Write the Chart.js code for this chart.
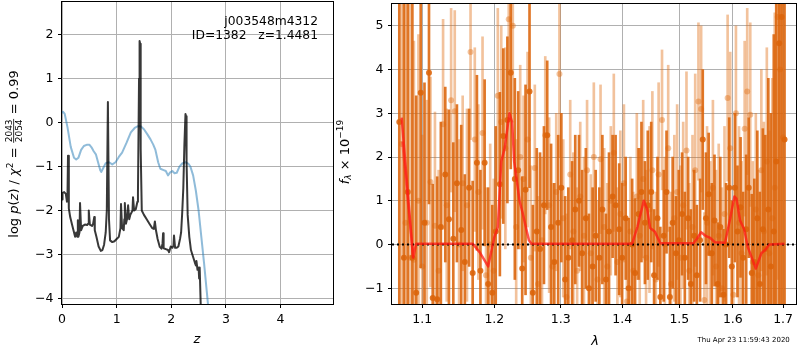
<!DOCTYPE html>
<html>
<head>
<meta charset="utf-8">
<script src="https://cdn.jsdelivr.net/npm/chart.js@4.4.0/dist/chart.umd.min.js"></script>
<style>
body { margin: 0; background: #fff; }
#wrap { position: relative; width: 800px; height: 350px; }
canvas { position: absolute; top: 0; }
#pz { left: 0; }
#spec { left: 330px; }
</style>
</head>
<body>
<div id="wrap">
  <canvas id="pz" width="340" height="350"></canvas>
  <canvas id="spec" width="470" height="350"></canvas>
</div>
<script>
// ---- left panel: log p(z) ----
var zTicks = [0, 1, 2, 3, 4];
var pzTicks = [-4, -3, -2, -1, 0, 1, 2];

var blueZ = [0.0, 0.02, 0.05, 0.1, 0.16, 0.22, 0.26, 0.3, 0.35, 0.4, 0.46, 0.5, 0.54, 0.58, 0.62, 0.66, 0.7, 0.72, 0.76, 0.8, 0.86, 0.92, 0.98, 1.04, 1.1, 1.18, 1.26, 1.33, 1.39, 1.44, 1.5, 1.56, 1.62, 1.67, 1.71, 1.76, 1.8, 1.86, 1.9, 1.94, 1.98, 2.02, 2.06, 2.1, 2.15, 2.2, 2.26, 2.31, 2.35, 2.4, 2.45, 2.5, 2.55, 2.6, 2.65, 2.7, 2.75];
var blueY = [0.22, 0.25, 0.2, -0.1, -0.55, -0.8, -0.84, -0.8, -0.62, -0.53, -0.5, -0.5, -0.56, -0.65, -0.72, -0.9, -1.08, -1.12, -1.02, -0.92, -0.9, -0.95, -0.9, -0.78, -0.68, -0.46, -0.22, -0.12, -0.08, -0.08, -0.15, -0.26, -0.38, -0.5, -0.62, -0.9, -1.05, -1.08, -1.1, -1.2, -1.13, -1.1, -1.15, -1.14, -1.0, -0.93, -0.9, -0.93, -1.0, -1.2, -1.55, -2.0, -2.6, -3.2, -3.85, -4.5, -5.2];

var darkZ = [0.0, 0.01, 0.04, 0.07, 0.09, 0.1, 0.11, 0.125, 0.15, 0.18, 0.21, 0.24, 0.26, 0.28, 0.29, 0.3, 0.32, 0.33, 0.35, 0.38, 0.42, 0.46, 0.48, 0.49, 0.51, 0.55, 0.57, 0.59, 0.6, 0.63, 0.67, 0.71, 0.74, 0.77, 0.8, 0.82, 0.84, 0.86, 0.88, 0.92, 0.96, 1.0, 1.04, 1.07, 1.08, 1.1, 1.13, 1.14, 1.15, 1.17, 1.19, 1.21, 1.23, 1.25, 1.27, 1.29, 1.3, 1.32, 1.35, 1.38, 1.39, 1.41, 1.42, 1.43, 1.44, 1.46, 1.5, 1.55, 1.6, 1.65, 1.68, 1.7, 1.72, 1.75, 1.79, 1.82, 1.84, 1.85, 1.86, 1.9, 1.94, 1.96, 1.99, 2.02, 2.04, 2.05, 2.07, 2.1, 2.13, 2.16, 2.18, 2.2, 2.22, 2.24, 2.26, 2.27, 2.28, 2.3, 2.33, 2.36, 2.4, 2.43, 2.45, 2.46, 2.48, 2.5, 2.51, 2.52, 2.54, 2.56];
var darkY = [-1.75, -1.6, -1.58, -1.62, -1.8, -1.7, -0.75, -1.95, -2.15, -2.3, -2.45, -2.6, -2.5, -2.6, -2.22, -2.6, -2.5, -1.83, -2.45, -2.35, -2.32, -2.33, -2.3, -2.0, -2.32, -2.35, -2.3, -2.15, -2.45, -2.6, -2.82, -2.92, -2.9, -2.78, -2.5, -2.0, 0.47, -2.2, -2.68, -2.72, -2.7, -2.65, -2.6, -2.4, -1.85, -2.4, -2.45, -2.2, -1.83, -2.3, -2.2, -1.88, -2.2, -2.1, -2.05, -2.0, -1.7, -2.0, -1.97, -1.8, -1.6, 1.0, 1.86, 1.8, -0.6, -2.0, -2.1, -2.2, -2.3, -2.4, -2.42, -2.25, -2.45, -2.65, -2.83, -2.87, -2.75, -2.52, -2.86, -2.88, -2.9, -2.95, -2.82, -2.85, -2.8, -2.57, -2.85, -2.85, -2.82, -2.65, -2.5, -2.05, -1.5, -0.5, 0.2, 0.15, -0.9, -2.1, -2.6, -2.9, -3.06, -3.18, -3.25, -3.15, -3.35, -3.3, -3.55, -3.3, -4.2, -5.0];

// ---- right panel: spectrum ----
var lamTicks = [1.1, 1.2, 1.3, 1.4, 1.5, 1.6, 1.7];
var fluxTicks = [-1, 0, 1, 2, 3, 4, 5];

var lamA = [1.070, 1.076, 1.081, 1.087, 1.092, 1.098, 1.103, 1.109, 1.114, 1.120, 1.125, 1.131, 1.136, 1.142, 1.147, 1.153, 1.158, 1.164, 1.169, 1.175, 1.180, 1.186, 1.191, 1.197, 1.202, 1.208, 1.213, 1.219, 1.224, 1.230, 1.235, 1.241, 1.246, 1.252, 1.257, 1.263, 1.268, 1.274, 1.279, 1.285, 1.290, 1.296, 1.301, 1.307, 1.312, 1.318, 1.323, 1.329, 1.334, 1.340, 1.345, 1.351, 1.356, 1.362, 1.367, 1.373, 1.378, 1.384, 1.389, 1.395, 1.400, 1.406, 1.411, 1.417, 1.422, 1.428, 1.433, 1.439, 1.444, 1.450, 1.455, 1.461, 1.466, 1.472, 1.477, 1.483, 1.488, 1.494, 1.499, 1.505, 1.510, 1.516, 1.521, 1.527, 1.532, 1.538, 1.543, 1.549, 1.554, 1.560, 1.565, 1.571, 1.576, 1.582, 1.587, 1.593, 1.598, 1.604, 1.609, 1.615, 1.620, 1.626, 1.631, 1.637, 1.642, 1.648, 1.653, 1.659, 1.664, 1.670, 1.675, 1.681, 1.686, 1.692, 1.697, 1.703];
var fluxA = [2.8, -0.3, 1.2, -0.3, -1.1, 3.47, 0.5, 3.93, -1.22, -1.25, 0.4, 1.6, 0.58, 0.13, 1.4, 0.33, -0.4, 1.3, -0.65, 1.87, -0.6, 1.87, -0.9, -1.1, 0.3, 1.38, 2.48, 2.85, 3.93, 1.5, 1.7, -0.55, 1.25, 3.5, -1.1, 0.3, -0.1, 0.9, 2.5, 0.4, -0.4, 0.5, 1.3, -0.8, -0.3, 0.1, 0.8, 1.0, -0.2, 0.6, -1.0, -0.5, 0.2, -0.3, 0.8, -0.8, 0.3, 1.1, 0.9, 0.35, -0.3, 0.6, -1.0, 0.0, -0.65, 0.7, 1.2, 0.5, 0.9, 1.2, -0.7, 0.6, -1.2, 0.2, 1.2, -1.2, 0.5, -0.2, 0.1, 0.7, -0.3, 0.6, -0.9, 0.2, -0.7, 0.1, 2.4, 0.6, 1.15, -0.2, 0.55, -0.9, 0.4, -1.15, 0.0, 1.3, -0.5, 1.3, 0.3, 0.85, -0.3, 0.35, 1.3, -0.65, -0.4, 0.6, -0.9, 0.35, -0.1, 0.8, -0.5, 0.3, 1.9, 4.6, 5.2, 2.4];
var errA = [9, 8, 7, 6, 4.5, 4.0, 3.2, 3.0, 2.6, 2.8, 2.4, 2.0, 2.5, 2.2, 1.8, 2.4, 2.0, 1.8, 2.1, 2.0, 2.3, 1.9, 2.2, 2.0, 2.4, 2.1, 2.0, 1.9, 2.2, 2.3, 1.8, 2.1, 2.4, 2.2, 2.0, 1.9, 2.2, 1.8, 1.7, 1.9, 1.8, 2.0, 1.7, 1.9, 1.6, 1.8, 1.7, 1.5, 1.9, 1.6, 1.7, 1.8, 1.5, 1.6, 1.7, 1.5, 1.8, 1.4, 1.6, 1.5, 1.7, 1.4, 1.6, 1.5, 1.7, 1.5, 1.6, 1.4, 1.7, 1.6, 1.5, 1.4, 1.6, 1.5, 1.4, 1.6, 1.5, 1.3, 1.6, 1.4, 1.5, 1.4, 1.7, 1.5, 1.6, 1.4, 1.6, 1.5, 1.4, 1.6, 1.5, 1.4, 1.6, 1.5, 1.4, 1.6, 1.5, 1.7, 1.5, 1.6, 1.5, 1.7, 1.6, 1.8, 1.9, 2.0, 2.1, 2.3, 2.6, 3.0, 3.5, 4.5, 6, 8, 9, 9];

var lamB = [1.073, 1.078, 1.084, 1.089, 1.095, 1.100, 1.106, 1.111, 1.117, 1.122, 1.128, 1.133, 1.139, 1.144, 1.150, 1.155, 1.161, 1.166, 1.172, 1.177, 1.183, 1.188, 1.194, 1.199, 1.205, 1.210, 1.216, 1.221, 1.227, 1.232, 1.238, 1.243, 1.249, 1.254, 1.260, 1.265, 1.271, 1.276, 1.282, 1.287, 1.293, 1.298, 1.304, 1.309, 1.315, 1.320, 1.326, 1.331, 1.337, 1.342, 1.348, 1.353, 1.359, 1.364, 1.370, 1.375, 1.381, 1.386, 1.392, 1.397, 1.403, 1.408, 1.414, 1.419, 1.425, 1.430, 1.436, 1.441, 1.447, 1.452, 1.458, 1.463, 1.469, 1.474, 1.480, 1.485, 1.491, 1.496, 1.502, 1.507, 1.513, 1.518, 1.524, 1.529, 1.535, 1.540, 1.546, 1.551, 1.557, 1.562, 1.568, 1.573, 1.579, 1.584, 1.590, 1.595, 1.601, 1.606, 1.612, 1.617, 1.623, 1.628, 1.634, 1.639, 1.645, 1.650, 1.656, 1.661, 1.667, 1.672, 1.678, 1.683, 1.689, 1.694, 1.700];
var fluxB = [2.3, 0.5, -0.3, -0.35, 1.0, -0.5, 0.5, 1.43, 0.43, -0.6, 2.75, 0.9, 3.3, 3.05, 0.0, 1.4, 0.9, 4.4, 2.4, 1.2, 2.55, -0.7, 0.0, -0.6, 3.4, 2.8, 2.2, 5.15, 5.0, 0.4, 2.0, 1.5, 2.4, -0.3, 1.75, -0.9, 0.1, 2.5, 0.9, -0.5, 1.2, 3.9, 0.6, -1.2, 1.6, 0.3, -0.6, 1.1, 0.2, 1.7, -0.2, 2.0, -0.8, 1.95, 0.4, -0.5, 1.0, 2.1, -0.4, 0.7, 1.4, -1.3, 0.3, -0.6, 1.1, 0.2, 1.5, -0.3, 0.8, 1.7, -0.8, 1.6, 2.85, 0.0, 2.2, -0.9, 0.6, 1.2, -0.3, 0.9, 2.15, -0.6, 0.4, 1.7, 3.27, 3.1, -1.27, 0.5, -0.2, 1.3, -0.5, 0.2, -1.0, 0.7, 3.35, 2.2, -1.15, 3.0, 0.5, -0.2, 2.65, 3.5, 2.97, -0.4, 0.8, -0.7, 1.7, 0.3, 1.9, -0.2, 0.6, 1.3, 5.2, 4.0, 2.45];
var errB = [9, 8, 6, 5, 3.8, 3.0, 2.8, 2.4, 2.6, 2.3, 2.4, 2.2, 2.1, 2.3, 2.4, 2.0, 2.2, 2.0, 2.1, 2.0, 2.2, 2.0, 2.3, 2.1, 2.0, 2.2, 2.3, 2.1, 2.2, 2.0, 2.1, 1.9, 2.0, 2.1, 1.9, 2.0, 1.9, 1.8, 2.0, 1.9, 1.8, 1.9, 1.8, 1.9, 1.7, 1.8, 1.9, 1.7, 1.8, 1.6, 1.8, 1.7, 1.8, 1.7, 1.8, 1.9, 1.7, 1.8, 1.7, 1.9, 1.8, 1.9, 1.7, 1.8, 1.9, 2.0, 1.8, 2.0, 1.9, 1.8, 2.0, 2.1, 1.6, 2.0, 1.9, 2.1, 1.9, 2.0, 2.1, 1.9, 1.8, 2.0, 2.1, 2.2, 1.8, 1.9, 2.0, 2.2, 2.1, 2.0, 2.2, 2.1, 2.3, 2.0, 1.9, 2.2, 2.1, 2.0, 2.2, 2.1, 2.0, 1.9, 2.1, 2.3, 2.2, 2.4, 2.3, 2.5, 2.6, 2.8, 3.2, 4.0, 6, 8, 9];

var modelLam = [1.073, 1.088, 1.092, 1.169, 1.180, 1.191, 1.200, 1.205, 1.210, 1.215, 1.222, 1.226, 1.229, 1.237, 1.242, 1.251, 1.255, 1.417, 1.426, 1.437, 1.443, 1.448, 1.456, 1.466, 1.526, 1.533, 1.540, 1.548, 1.557, 1.566, 1.585, 1.595, 1.603, 1.607, 1.614, 1.622, 1.629, 1.637, 1.645, 1.656, 1.664, 1.672, 1.703];
var modelFlux = [2.9, -0.3, 0.02, 0.02, -0.2, -0.5, 0.17, 0.4, 1.9, 2.2, 3.0, 2.8, 1.9, 1.0, 0.7, 0.1, 0.02, 0.02, 0.4, 1.0, 0.8, 0.38, 0.3, 0.03, 0.03, 0.15, 0.28, 0.2, 0.15, 0.05, 0.04, 0.6, 1.1, 1.05, 0.55, 0.35, -0.05, -0.3, -0.55, -0.2, -0.12, 0.0, 0.02];
var modelLamB = [1.074, 1.081, 1.088];
var modelFluxB = [2.35, 1.0, -0.3];

var zeroLam = [1.0606, 1.7267];
var zeroFlux = [0, 0];

var FONT = '"DejaVu Sans", sans-serif';
var TICK = 12.5;

function pts(xs, ys) {
  return xs.map(function (x, i) { return { x: x, y: ys[i] }; });
}
function errbars(xs, ys, es) {
  return xs.map(function (x, i) { return { x: x, y: [ys[i] - es[i], ys[i] + es[i]] }; });
}
function minus(v) { return (v < 0 ? '\u2212' : '') + Math.abs(v); }

// text made of runs (italic / sub / superscript / fraction), centred on x,y
function drawRuns(ctx, runs, x, y, rot) {
  ctx.save();
  ctx.translate(x, y);
  if (rot) ctx.rotate(-Math.PI / 2);
  var total = 0;
  runs.forEach(function (r) {
    if (r.frac) {
      ctx.font = r.s + 'px ' + FONT;
      r.w = Math.max(ctx.measureText(r.frac[0]).width, ctx.measureText(r.frac[1]).width) + 2;
    } else {
      ctx.font = (r.it ? 'italic ' : '') + r.s + 'px ' + FONT;
      r.w = ctx.measureText(r.t).width;
    }
    total += r.w;
  });
  var cx = -total / 2;
  ctx.fillStyle = '#000';
  ctx.textBaseline = 'alphabetic';
  runs.forEach(function (r) {
    if (r.frac) {
      ctx.font = r.s + 'px ' + FONT;
      ctx.textAlign = 'center';
      var bar = -4.3;
      ctx.fillText(r.frac[0], cx + r.w / 2, bar - 1.3);
      ctx.fillText(r.frac[1], cx + r.w / 2, bar + 1.3 + r.s * 0.73);
      ctx.fillRect(cx + 0.5, bar - 0.4, r.w - 1, 0.8);
    } else {
      ctx.font = (r.it ? 'italic ' : '') + r.s + 'px ' + FONT;
      ctx.textAlign = 'left';
      ctx.fillText(r.t, cx, r.dy || 0);
    }
    cx += r.w;
  });
  ctx.restore();
}

var frame = {
  id: 'frame',
  afterDatasetsDraw: function (chart) {
    var a = chart.chartArea, c = chart.ctx;
    c.save();
    c.strokeStyle = '#000';
    c.lineWidth = 1;
    c.strokeRect(a.left - 0.5, a.top - 0.5, a.right - a.left + 1, a.bottom - a.top + 1);
    c.restore();
  }
};

function axisOpts(ticks, fmt, width, height) {
  return {
    offset: false,
    afterBuildTicks: function (s) { s.ticks = ticks.map(function (v) { return { value: v }; }); },
    afterFit: function (s) {
      if (width) s.width = width;
      if (height) s.height = height;
      s.paddingTop = 0; s.paddingBottom = 0; s.paddingLeft = 0; s.paddingRight = 0;
    },
    grid: { color: '#b0b0b0', lineWidth: 1, tickColor: '#000', tickLength: 4, offset: false },
    border: { display: false },
    ticks: {
      color: '#000', font: { family: FONT, size: TICK }, padding: 4.5,
      maxRotation: 0, autoSkip: false, callback: fmt
    }
  };
}

// left chart
var pzText = {
  id: 'pzText',
  afterDraw: function (chart) {
    var c = chart.ctx;
    c.save();
    c.fillStyle = '#000';
    c.font = '12.3px ' + FONT;
    c.textAlign = 'right';
    c.textBaseline = 'alphabetic';
    c.fillText('j003548m4312', 318, 24.5);
    c.fillText('ID=1382   z=1.4481', 318, 38.5);
    c.restore();
    drawRuns(c, [{ t: 'z', s: 13, it: 1 }], 197, 343, false);
    drawRuns(c, [
      { t: 'log ', s: 13 }, { t: 'p', s: 13, it: 1 }, { t: '(', s: 13 }, { t: 'z', s: 13, it: 1 },
      { t: ') / ', s: 13 }, { t: '\u03c7', s: 13, it: 1 }, { t: '2', s: 9, dy: -5.5 },
      { t: ' = ', s: 13 }, { frac: ['2043', '2054'], s: 9 }, { t: ' = 0.99', s: 13 }
    ], 18, 154, true);
  }
};

var xz = axisOpts(zTicks, function (v) { return String(v); }, 0, 46);
xz.type = 'linear'; xz.min = 0; xz.max = 4.96;
var yz = axisOpts(pzTicks, minus, 62, 0);
yz.type = 'linear'; yz.min = -4.13; yz.max = 2.75;

new Chart(document.getElementById('pz'), {
  type: 'scatter',
  data: {
    datasets: [
      { type: 'line', data: pts(darkZ, darkY), borderColor: 'rgba(0,0,0,0.78)', borderWidth: 2, borderJoinStyle: 'round', pointRadius: 0, tension: 0, order: 0, clip: 0 },
      { type: 'line', data: pts(blueZ, blueY), borderColor: 'rgba(31,119,180,0.5)', borderWidth: 2, borderJoinStyle: 'round', pointRadius: 0, tension: 0, order: 1, clip: 0 }
    ]
  },
  options: {
    responsive: false, animation: false, devicePixelRatio: 1,
    layout: { padding: { top: 2, right: 7, left: 0, bottom: 0 } },
    plugins: { legend: { display: false }, tooltip: { enabled: false } },
    scales: { x: xz, y: yz }
  },
  plugins: [frame, pzText]
});

// right chart (canvas starts at x = 330)
var specText = {
  id: 'specText',
  afterDraw: function (chart) {
    var c = chart.ctx;
    drawRuns(c, [{ t: '\u03bb', s: 13, it: 1 }], 265, 345, false);
    drawRuns(c, [
      { t: 'f', s: 13, it: 1 }, { t: '\u03bb', s: 9, it: 1, dy: 2.5 },
      { t: ' \u00d7 10', s: 13 }, { t: '\u221219', s: 9, dy: -5.5 }
    ], 18.5, 152, true);
    c.save();
    c.fillStyle = '#000';
    c.font = '7px ' + FONT;
    c.textAlign = 'left';
    c.fillText('Thu Apr 23 11:59:43 2020', 367.5, 342);
    c.restore();
  }
};

var DARK = 'rgba(220,100,10,0.88)';
var LIGHT = 'rgba(225,110,20,0.42)';

var xl = axisOpts(lamTicks, function (v) { return v.toFixed(1); }, 0, 46);
xl.type = 'logarithmic'; xl.min = 1.0606; xl.max = 1.7267;
var yl = axisOpts(fluxTicks, minus, 62, 0);
yl.type = 'linear'; yl.min = -1.36; yl.max = 5.5;

new Chart(document.getElementById('spec'), {
  type: 'scatter',
  data: {
    datasets: [
      { type: 'line', data: pts(modelLam, modelFlux), borderColor: 'rgba(255,25,20,0.75)', borderWidth: 2.5, borderJoinStyle: 'round', pointRadius: 0, tension: 0, order: 0, clip: 0 },
      { type: 'line', data: pts(modelLamB, modelFluxB), borderColor: 'rgba(255,25,20,0.5)', borderWidth: 2.5, pointRadius: 0, tension: 0, order: 0, clip: 0 },
      { type: 'line', data: pts(zeroLam, zeroFlux), borderColor: '#000', borderWidth: 1.8, borderDash: [2, 3], pointRadius: 0, order: 1, clip: 0 },
      { type: 'scatter', data: pts(lamA, fluxA), backgroundColor: DARK, borderWidth: 0, pointRadius: 3, order: 2, clip: 0 },
      { type: 'bar', data: errbars(lamA, fluxA, errA), backgroundColor: DARK, barThickness: 2, grouped: false, order: 3, clip: 0 },
      { type: 'scatter', data: pts(lamB, fluxB), backgroundColor: LIGHT, borderWidth: 0, pointRadius: 3, order: 4, clip: 0 },
      { type: 'bar', data: errbars(lamB, fluxB, errB), backgroundColor: LIGHT, barThickness: 2, grouped: false, order: 5, clip: 0 }
    ]
  },
  options: {
    responsive: false, animation: false, devicePixelRatio: 1,
    layout: { padding: { top: 2, right: 2, left: 0, bottom: 0 } },
    plugins: { legend: { display: false }, tooltip: { enabled: false } },
    scales: { x: xl, y: yl }
  },
  plugins: [frame, specText]
});
</script>
</body>
</html>
